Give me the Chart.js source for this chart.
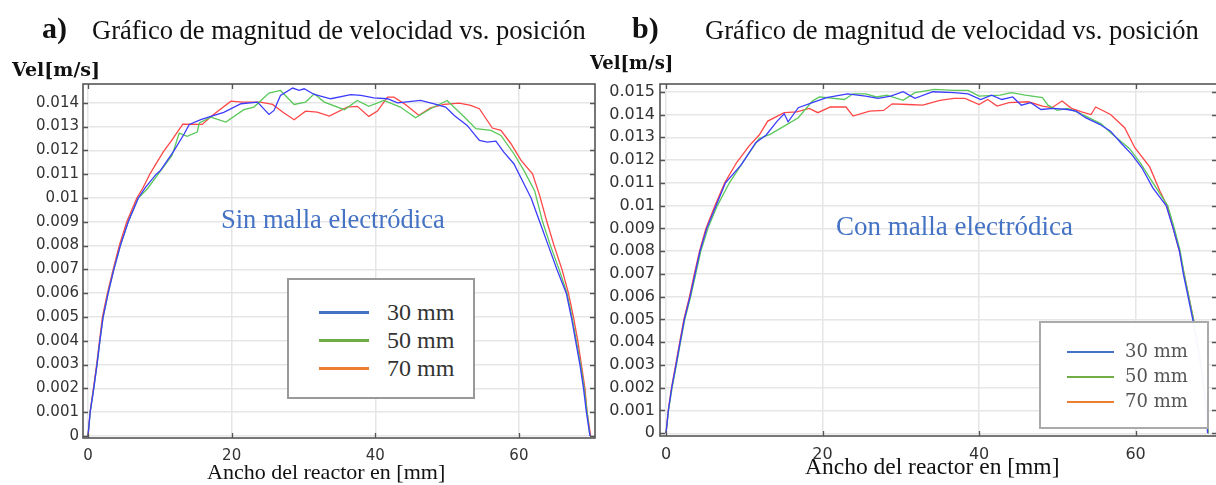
<!DOCTYPE html>
<html>
<head>
<meta charset="utf-8">
<script src="https://cdn.jsdelivr.net/npm/chart.js@4.4.1/dist/chart.umd.min.js"></script>
<style>
  html, body { margin: 0; padding: 0; background: #fff; }
  #wrap { position: relative; width: 1216px; height: 485px; overflow: hidden; background: #fff; }
  canvas { position: absolute; top: 0; }
  .t { position: absolute; white-space: nowrap; line-height: 1; }
  .serif { font-family: "Liberation Serif", "Times New Roman", serif; }
  .legend { position: absolute; box-sizing: border-box; background: #fff; }
  .legend .ln { position: absolute; }
</style>
</head>
<body>
<div id="wrap">
  <canvas id="cA" width="600" height="485" style="left:0px"></canvas>
  <canvas id="cB" width="620" height="485" style="left:600px"></canvas>

  <div class="t serif" style="left:42px; top:13px; font-size:30px; font-weight:bold; color:#111;">a)</div>
  <div class="t serif" style="left:92px; top:17px; font-size:26.5px; color:#111;">Gráfico de magnitud de velocidad vs. posición</div>
  <div class="t serif" style="left:632px; top:13px; font-size:30px; font-weight:bold; color:#111;">b)</div>
  <div class="t serif" style="left:705px; top:17px; font-size:26.5px; color:#111;">Gráfico de magnitud de velocidad vs. posición</div>

  <div class="t" style="left:12px; top:60px; font-size:19px; font-weight:bold; font-family:'DejaVu Serif', serif; color:#111;">Vel[m/s]</div>
  <div class="t" style="left:590px; top:54px; font-size:18px; font-weight:bold; font-family:'DejaVu Serif', serif; color:#111;">Vel[m/s]</div>

  <div class="t serif" style="left:207px; top:461px; font-size:22px; color:#111;">Ancho del reactor en [mm]</div>
  <div class="t serif" style="left:805px; top:455px; font-size:23.5px; color:#111;">Ancho del reactor en [mm]</div>

  <div class="t serif" style="left:221px; top:206px; font-size:26.5px; color:#4472C4;">Sin malla electródica</div>
  <div class="t serif" style="left:836px; top:213px; font-size:27px; color:#4472C4;">Con malla electródica</div>

  <div class="legend" style="left:287px; top:278px; width:188px; height:121px; border:2px solid #999;">
    <div class="ln" style="left:30px; top:31px; width:50px; height:3px; background:#4472C4;"></div>
    <div class="ln" style="left:30px; top:59px; width:50px; height:3px; background:#70AD47;"></div>
    <div class="ln" style="left:30px; top:87px; width:50px; height:3px; background:#ED7D31;"></div>
    <div class="t serif" style="left:98px; top:20px; font-size:24px; color:#333;">30 mm</div>
    <div class="t serif" style="left:98px; top:48px; font-size:24px; color:#333;">50 mm</div>
    <div class="t serif" style="left:98px; top:76px; font-size:24px; color:#333;">70 mm</div>
  </div>

  <div class="legend" style="left:1039px; top:321px; width:170px; height:108px; border:2px solid #aaa; background:rgba(255,255,255,0.96);">
    <div class="ln" style="left:26px; top:28px; width:47px; height:2px; background:#4472C4;"></div>
    <div class="ln" style="left:26px; top:53px; width:47px; height:2px; background:#70AD47;"></div>
    <div class="ln" style="left:26px; top:78px; width:47px; height:2px; background:#ED7D31;"></div>
    <div class="t" style="left:84px; top:19px; font-size:18px; font-family:'DejaVu Serif', serif; color:#555;">30 mm</div>
    <div class="t" style="left:84px; top:44px; font-size:18px; font-family:'DejaVu Serif', serif; color:#555;">50 mm</div>
    <div class="t" style="left:84px; top:69px; font-size:18px; font-family:'DejaVu Serif', serif; color:#555;">70 mm</div>
  </div>
</div>

<script>
// ---- Tick values ----
const xTicks = [0, 20, 40, 60];
const yTicksA = [0, 0.001, 0.002, 0.003, 0.004, 0.005, 0.006, 0.007, 0.008, 0.009, 0.010, 0.011, 0.012, 0.013, 0.014];
const yTicksB = [0, 0.001, 0.002, 0.003, 0.004, 0.005, 0.006, 0.007, 0.008, 0.009, 0.010, 0.011, 0.012, 0.013, 0.014, 0.015];
const seriesLabels = ['30 mm', '50 mm', '70 mm'];

// ---- a) Sin malla electródica ----
const xA30 = [0, 0.3, 0.8, 1.25, 1.65, 2.1, 2.8, 3.6, 4.5, 5.6, 7.0, 8.0, 9.5, 10.1, 12.0, 13.4, 14.1, 15.7, 17.1, 18.9, 21.3, 23.6, 25.2, 25.9, 26.8, 28.5, 29.4, 30.1, 31.5, 33.8, 36.6, 38.0, 39.8, 41.7, 43.1, 46.3, 48.2, 49.8, 51.0, 52.8, 54.5, 55.6, 56.8, 57.9, 59.3, 60.7, 61.7, 62.9, 64.1, 65.3, 66.6, 67.3, 67.9, 68.5, 69.0, 69.4, 69.9];
const vA30 = [0, .001, .002, .003, .004, .005, .006, .007, .008, .009, .0100, .01045, .0110, .01116, .0120, .0127, .01309, .01329, .01343, .0136, .01396, .01403, .01351, .01368, .01431, .01462, .01452, .01459, .01435, .01417, .01434, .01431, .01421, .01417, .0140, .0141, .01396, .01382, .01347, .01305, .01242, .01235, .01239, .01193, .01144, .0106, .0100, .009, .008, .007, .006, .005, .004, .003, .002, .001, 0];

const xA50 = [0, 0.3, 0.8, 1.25, 1.65, 2.1, 2.8, 3.6, 4.5, 5.6, 7.0, 8.3, 10.0, 11.7, 12.7, 13.8, 15.2, 15.5, 17.1, 19.2, 21.7, 23.1, 25.2, 26.8, 28.7, 30.3, 31.5, 32.9, 35.7, 37.5, 39.1, 41.2, 43.5, 45.6, 47.7, 50.0, 52.4, 54.0, 56.1, 57.5, 59.3, 60.7, 62.2, 63.3, 64.4, 65.6, 66.7, 67.4, 68.0, 68.6, 69.1, 69.5, 69.9];
const vA50 = [0, .001, .002, .003, .004, .005, .006, .007, .008, .009, .0100, .0104, .0111, .01179, .01273, .01259, .01277, .01315, .0134, .01319, .01371, .01382, .01441, .01452, .01393, .01403, .01438, .01403, .01371, .0141, .01385, .0141, .01382, .01337, .01375, .0141, .0134, .01291, .01284, .01263, .01186, .01116, .0103, .009, .008, .007, .006, .005, .004, .003, .002, .001, 0];

const xA70 = [0, 0.28, 0.75, 1.2, 1.6, 2.0, 2.7, 3.5, 4.35, 5.4, 6.8, 7.6, 8.6, 9.4, 10.5, 11.6, 13.2, 15.9, 17.3, 19.9, 21.5, 24.0, 25.7, 27.1, 28.7, 30.3, 31.9, 33.6, 36.1, 37.5, 39.1, 40.3, 41.7, 42.6, 44.2, 46.1, 47.7, 49.6, 51.7, 53.3, 54.5, 56.3, 57.5, 58.9, 60.3, 61.9, 62.9, 63.9, 64.9, 66.0, 66.9, 67.6, 68.2, 68.7, 69.2, 69.5, 70.0];
const vA70 = [0, .001, .002, .003, .004, .005, .006, .007, .008, .009, .0100, .0104, .0110, .0114, .01195, .0124, .0131, .01309, .01347, .01407, .01403, .01403, .01393, .01361, .01329, .01365, .01361, .01344, .01382, .01385, .01343, .01365, .01424, .01424, .01393, .01347, .01379, .01393, .01399, .01389, .01375, .01294, .01284, .01228, .01158, .01102, .0101, .009, .008, .007, .006, .005, .004, .003, .002, .001, 0];

// ---- b) Con malla electródica ----
const xB30 = [0, 0.3, 0.73, 1.28, 1.8, 2.34, 3.07, 3.7, 4.34, 5.2, 6.4, 7.6, 9.65, 11.46, 12.8, 14.2, 15.1, 15.6, 16.9, 18.7, 20.5, 23.2, 25.5, 27.1, 28.7, 30.3, 31.8, 34.1, 36.8, 38.6, 40.2, 41.6, 42.9, 44.3, 45.4, 46.6, 47.9, 49.5, 51.3, 52.4, 53.6, 55.4, 56.8, 58.1, 59.5, 60.8, 62.2, 63.9, 64.8, 65.6, 66.1, 66.7, 67.3, 67.8, 68.3, 68.7, 69.0, 69.2];
const vB30 = [0, .001, .002, .003, .004, .005, .006, .007, .008, .009, .0100, .0110, .01181, .01276, .0131, .01371, .01403, .01368, .0143, .01452, .01474, .01491, .01481, .01471, .01481, .0150, .01471, .0150, .01496, .01491, .01466, .01485, .01466, .01477, .01441, .01452, .01422, .01427, .01422, .01415, .01386, .01357, .01327, .01276, .01225, .01166, .01078, .0100, .009, .008, .007, .006, .005, .004, .003, .002, .001, 0];

const xB50 = [0, 0.32, 0.78, 1.33, 1.85, 2.4, 3.15, 3.8, 4.45, 5.35, 6.56, 8.1, 10.0, 11.9, 13.3, 15.1, 16.9, 18.7, 19.6, 22.8, 23.9, 25.5, 26.9, 28.2, 30.3, 31.8, 34.3, 36.8, 38.6, 40.0, 42.7, 44.1, 45.9, 48.1, 48.8, 50.0, 51.3, 52.7, 54.0, 55.6, 56.8, 58.1, 59.2, 60.6, 62.4, 64.1, 64.95, 65.7, 66.2, 66.8, 67.4, 67.9, 68.4, 68.8, 69.1, 69.3];
const vB50 = [0, .001, .002, .003, .004, .005, .006, .007, .008, .009, .0100, .0110, .0120, .01295, .01313, .01349, .01386, .01459, .01477, .01466, .01491, .01491, .01477, .01485, .01462, .01496, .0151, .01506, .01506, .01481, .01485, .01496, .01485, .01474, .01441, .01418, .01427, .01408, .01386, .01359, .0132, .01283, .01251, .01188, .0109, .0100, .009, .008, .007, .006, .005, .004, .003, .002, .001, 0];

const xB70 = [0, 0.28, 0.7, 1.23, 1.75, 2.28, 3.0, 3.62, 4.28, 5.1, 6.26, 7.5, 9.0, 10.6, 11.9, 13.0, 15.1, 16.7, 18.3, 19.4, 21.0, 23.0, 23.9, 26.0, 27.8, 28.9, 30.9, 32.8, 35.0, 36.8, 38.2, 40.0, 41.1, 42.3, 43.8, 46.3, 48.1, 49.3, 50.6, 51.8, 53.1, 54.3, 54.9, 56.8, 58.6, 59.9, 61.8, 63.1, 64.0, 64.8, 65.6, 66.2, 66.8, 67.4, 67.9, 68.4, 68.8, 69.1, 69.3];
const vB70 = [0, .001, .002, .003, .004, .005, .006, .007, .008, .009, .0100, .0110, .01188, .01261, .0131, .01371, .01408, .01412, .01427, .01408, .01433, .01433, .01393, .01415, .01418, .01447, .01444, .01441, .01462, .01471, .01471, .01444, .01466, .01437, .01452, .01456, .01437, .0143, .01459, .01427, .01412, .0140, .01433, .0140, .01342, .01254, .0117, .01064, .0100, .009, .008, .007, .006, .005, .004, .003, .002, .001, 0];

const lineColors = ['rgb(60,60,255)', 'rgb(90,200,90)', 'rgb(255,70,70)'];

function pts(xs, vs) {
  const n = Math.min(xs.length, vs.length);
  const out = [];
  for (let i = 0; i < n; i++) out.push({ x: xs[i], y: vs[i] });
  return out;
}

const framePlugin = {
  id: 'frame',
  afterDatasetsDraw(chart) {
    const { ctx, chartArea: a, scales: { x, y } } = chart;
    ctx.save();
    ctx.strokeStyle = '#555';
    ctx.lineWidth = 1.6;
    ctx.strokeRect(a.left, a.top, a.right - a.left, a.bottom - a.top);
    ctx.lineWidth = 1.3;
    ctx.beginPath();
    y.ticks.forEach(t => {
      const p = Math.round(y.getPixelForValue(t.value)) + 0.5;
      ctx.moveTo(a.left, p); ctx.lineTo(a.left + 5, p);
      ctx.moveTo(a.right, p); ctx.lineTo(a.right - 5, p);
    });
    x.ticks.forEach(t => {
      const p = Math.round(x.getPixelForValue(t.value)) + 0.5;
      ctx.moveTo(p, a.bottom); ctx.lineTo(p, a.bottom - 5);
      ctx.moveTo(p, a.top); ctx.lineTo(p, a.top + 5);
    });
    ctx.stroke();
    ctx.restore();
  }
};

function fmt(v) { return String(+Number(v).toFixed(3)); }

function makeChart(id, sets, cfg) {
  return new Chart(document.getElementById(id), {
    type: 'line',
    data: {
      datasets: sets.map((d, i) => ({
        label: seriesLabels[i],
        data: d,
        borderColor: lineColors[i],
        borderWidth: 1.3,
        pointRadius: 0,
        tension: 0,
        fill: false
      }))
    },
    options: {
      responsive: false,
      animation: false,
      devicePixelRatio: 1,
      layout: { padding: { top: cfg.top, right: cfg.right, left: 0, bottom: 0 } },
      plugins: { legend: { display: false }, tooltip: { enabled: false } },
      scales: {
        x: {
          type: 'linear',
          min: cfg.xmin, max: cfg.xmax,
          afterBuildTicks: s => { s.ticks = xTicks.map(v => ({ value: v })); },
          afterFit: s => { s.height = cfg.xh; },
          grid: { color: '#e6e6e6', lineWidth: 1.5, drawTicks: false },
          border: { display: false },
          ticks: { padding: cfg.xpad, color: '#333', font: { family: 'DejaVu Sans', size: cfg.fs }, maxRotation: 0, autoSkip: false, callback: v => fmt(v) }
        },
        y: {
          type: 'linear',
          min: cfg.ymin, max: cfg.ymax,
          afterBuildTicks: s => { s.ticks = cfg.yTicks.map(v => ({ value: v })); },
          afterFit: s => { s.width = cfg.yw; },
          grid: { color: '#e6e6e6', lineWidth: 1.5, drawTicks: false },
          border: { display: false },
          ticks: { padding: cfg.ypad, color: '#333', font: { family: 'DejaVu Sans', size: cfg.fs }, autoSkip: false, callback: v => fmt(v) }
        }
      }
    },
    plugins: [framePlugin]
  });
}

makeChart('cA', [pts(xA30, vA30), pts(xA50, vA50), pts(xA70, vA70)], {
  top: 84, right: 5, xh: 47, yw: 83, xmin: -0.7, xmax: 70.6,
  ymin: -0.000084, ymax: 0.01479, yTicks: yTicksA, fs: 15, xpad: 9, ypad: 4
});
makeChart('cB', [pts(xB30, vB30), pts(xB50, vB50), pts(xB70, vB70)], {
  top: 84, right: 3, xh: 49, yw: 60, xmin: -0.77, xmax: 70.4,
  ymin: -0.00012, ymax: 0.01534, yTicks: yTicksB, fs: 16, xpad: 9, ypad: 5
});
</script>
</body>
</html>
